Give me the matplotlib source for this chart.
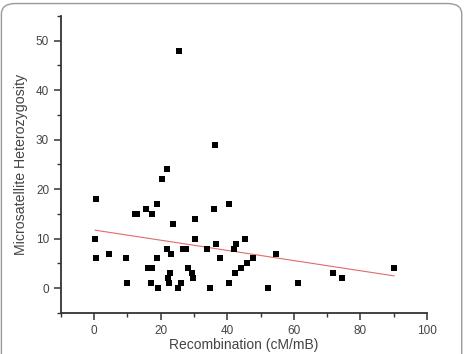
import matplotlib
matplotlib.use("Agg")
import matplotlib.pyplot as plt
from matplotlib.patches import FancyBboxPatch
from matplotlib.ticker import MultipleLocator
import numpy as np

recombination = [0.3, 0.5, 0.5, 4.4, 9.7, 10.0, 12.4, 13.0, 15.5, 16.3, 17.5, 17.2,
                 17.4, 18.9, 19.0, 19.3, 20.4, 21.9, 21.8, 22.1, 22.6, 22.8, 23.1,
                 23.6, 25.3, 26.1, 25.4, 26.6, 27.6, 28.1, 29.3, 29.6, 30.3, 30.3,
                 34.0, 34.7, 36.0, 36.4, 36.7, 37.7, 40.4, 40.5, 42.0, 42.2, 42.7,
                 44.2, 45.4, 46.0, 47.7, 52.3, 54.8, 61.3, 71.9, 74.6, 90.1]
heterozygosity = [10, 6, 18, 7, 6, 1, 15, 15, 16, 4, 4, 1,
                  15, 6, 17, 0, 22, 24, 8, 2, 1, 3, 7,
                  13, 0, 1, 48, 8, 8, 4, 3, 2, 10, 14,
                  8, 0, 16, 29, 9, 6, 17, 1, 8, 3, 9,
                  4, 10, 5, 6, 0, 7, 1, 3, 2, 4]
fit_intercept = 11.75
fit_slope = -0.1028

plt.rcParams['font.family'] = ['Liberation Sans', 'DejaVu Sans']

fig = plt.figure(figsize=(4.65, 3.54), dpi=100)
frame = FancyBboxPatch((0.003, -0.05), 0.99, 1.04, boxstyle="round,pad=0,rounding_size=0.03",
                       transform=fig.transFigure, facecolor='none', edgecolor='#9a9a9a',
                       linewidth=1.0, zorder=0)
fig.patches.append(frame)

ax = fig.add_axes([0.131, 0.116, 0.787, 0.839])
ax.scatter(recombination, heterozygosity, marker='s', s=25, color='black', zorder=3, linewidths=0)
xs = np.array([min(recombination), max(recombination)])
ax.plot(xs, fit_intercept + fit_slope * xs, color='#e06b6b', linewidth=0.8, zorder=2)

ax.set_xlim(-10, 100)
ax.set_ylim(-5, 55)
ax.xaxis.set_minor_locator(MultipleLocator(10))
ax.yaxis.set_minor_locator(MultipleLocator(5))
ax.set_yticks([0, 10, 20, 30, 40, 50])
ax.set_xticks([0, 20, 40, 60, 80, 100])

for s in ['top', 'right']:
    ax.spines[s].set_visible(False)
for s in ['left', 'bottom']:
    ax.spines[s].set_color('#333333')
    ax.spines[s].set_linewidth(1.3)

ax.tick_params(which='major', direction='out', length=5, width=1.1, color='#333333',
               labelsize=8.5, labelcolor='#444444')
ax.tick_params(which='minor', direction='out', length=3, width=1.0, color='#333333')

ax.set_xlabel('Recombination (cM/mB)', fontsize=10, color='#444444', labelpad=1)
ax.set_ylabel('Microsatellite Heterozygosity', fontsize=10.2, color='#444444', labelpad=6)

fig.savefig('out.png', dpi=100)
